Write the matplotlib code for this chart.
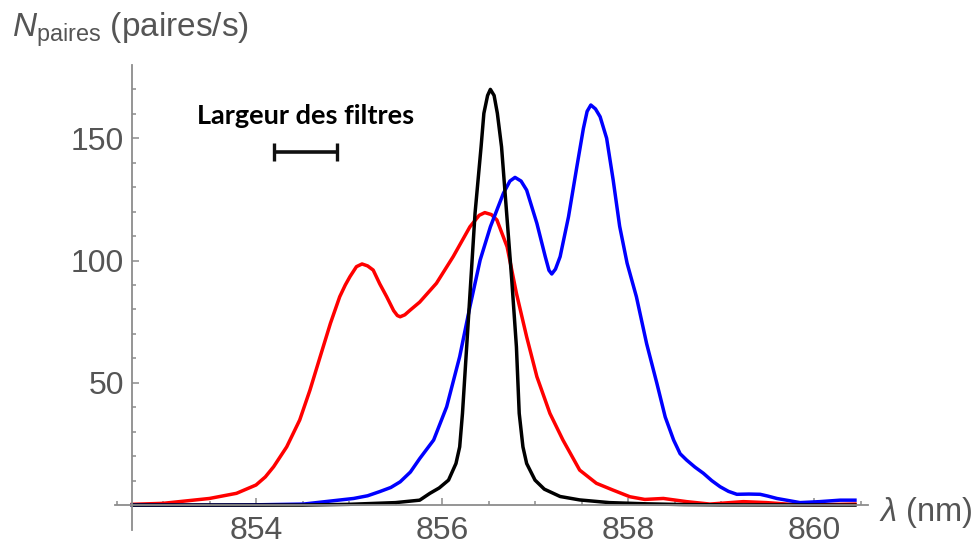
import matplotlib
matplotlib.use('Agg')
import matplotlib.pyplot as plt
from matplotlib.ticker import FixedLocator

plt.rcParams['font.family'] = ['Liberation Sans', 'DejaVu Sans']
plt.rcParams['mathtext.fontset'] = 'custom'
plt.rcParams['mathtext.rm'] = 'Liberation Sans'
plt.rcParams['mathtext.it'] = 'Liberation Sans:italic'

# ---------------------------------------------------------------------------------------------------------------------
# data: wavelength (nm) and pair rate (paires/s)
black_x = [852.67, 854.5, 855.0, 855.5, 855.76, 855.87, 855.97, 856.07, 856.15, 856.19, 856.22, 856.265, 856.31,
           856.355, 856.42, 856.45, 856.49, 856.52, 856.56, 856.595, 856.64, 856.695, 856.75, 856.80, 856.83,
           856.87, 856.91, 857.0, 857.1, 857.27, 857.48, 857.8, 858.2, 858.6, 859.0, 860.44]
black_y = [0, 0, 0.3, 1.0, 2.0, 4.8, 7.0, 10.2, 17.0, 23.8, 37.5, 64.7, 92.0,
           119.3, 146.5, 160.2, 167.5, 170.0, 167.5, 160.2, 146.5, 119.3, 92.0, 64.7, 37.5,
           23.8, 17.0, 10.2, 6.5, 3.5, 2.1, 1.0, 0.5, 0.2, 0.1, 0]

red_x = [852.67, 853.0, 853.5, 853.79, 854.0, 854.1, 854.19, 854.33, 854.47, 854.58, 854.69, 854.80, 854.90,
         854.96, 855.01, 855.08, 855.14, 855.20, 855.26, 855.33, 855.405, 855.48, 855.52, 855.55, 855.6, 855.66,
         855.76, 855.94, 856.12, 856.30, 856.40, 856.46, 856.53, 856.59, 856.70, 856.80, 856.91, 857.02, 857.16,
         857.30, 857.48, 857.66, 857.84, 858.02, 858.18, 858.38, 858.63, 858.88, 859.24, 859.49, 859.78, 860.14,
         860.44]
red_y = [0.3, 0.7, 2.7, 4.8, 8.2, 11.5, 15.7, 23.8, 34.8, 47.0, 60.7, 74.3, 85.2,
         90.0, 93.4, 97.5, 98.6, 97.8, 96.1, 90.5, 85.2, 79.5, 77.5, 77.0, 77.8, 79.8,
         83.0, 90.7, 101.6, 113.8, 118.5, 119.6, 118.8, 116.6, 105.6, 86.6, 68.8, 52.5, 37.5,
         26.6, 14.3, 8.9, 6.1, 3.4, 2.3, 2.7, 1.4, 0.4, 1.4, 1.0, 0.2, 0.2,
         0.4]

blue_x = [852.67, 853.5, 854.0, 854.51, 855.05, 855.2, 855.33, 855.45, 855.55, 855.66, 855.76, 855.91, 856.05,
          856.19, 856.30, 856.41, 856.52, 856.66, 856.73, 856.785, 856.85, 856.91, 857.02, 857.11, 857.15, 857.18,
          857.22, 857.27, 857.36, 857.45, 857.52, 857.56, 857.60, 857.65, 857.70, 857.77, 857.84, 857.91, 857.99,
          858.09, 858.20, 858.31, 858.40, 858.49, 858.56, 858.63, 858.72, 858.81, 858.9, 858.99, 859.08, 859.17,
          859.3, 859.42, 859.5, 859.60, 859.85, 860.06, 860.28, 860.44]
blue_y = [0, 0, 0.1, 0.4, 2.7, 3.8, 5.5, 7.2, 9.5, 13.5, 19.0, 26.6, 40.2,
          60.7, 81.1, 100.2, 113.8, 127.5, 132.5, 134.0, 132.5, 128.8, 115.2, 101.6, 96.0, 94.5,
          96.5, 101.6, 117.9, 138.4, 154.0, 161.0, 163.6, 162.0, 158.8, 150.0, 133.0, 114.0, 98.9,
          85.2, 66.0, 49.8, 36.0, 26.6, 21.0, 18.4, 15.5, 13.0, 10.0, 7.5, 5.6, 4.4,
          4.5, 4.4, 3.7, 2.7, 1.0, 1.4, 2.0, 2.0]

# filter width marker (nm)
filter_center = 854.53
filter_width = 0.68
filter_level = 144.5

x_major = [854, 856, 858, 860]
x_minor = [852.5, 853, 853.5, 854.5, 855, 855.5, 856.5, 857, 857.5, 858.5, 859, 859.5, 860.5]
y_major = [50, 100, 150]
y_minor = [10, 20, 30, 40, 60, 70, 80, 90, 110, 120, 130, 140, 160, 170]

# ---------------------------------------------------------------------------------------------------------------------
fig = plt.figure(figsize=(9.79, 5.46), dpi=100)
ax = fig.add_axes([0.1171, 0.0302, 0.7695, 0.8509])

ax.plot(red_x, red_y, color='#ff0000', lw=2.5, solid_joinstyle='round')
ax.plot(blue_x, blue_y, color='#0000ff', lw=2.5, solid_joinstyle='round')
ax.plot(black_x, black_y, color='black', lw=2.5, solid_joinstyle='round')

# filter width bar with its label
ax.errorbar(filter_center, filter_level, xerr=filter_width / 2, fmt='none', ecolor='#111111',
            elinewidth=2.6, capsize=6.5, capthick=2.4)
ax.text(filter_center, 156, 'Largeur des filtres', ha='center', va='baseline',
        fontsize=19.5, fontweight='bold', family=['Lato', 'DejaVu Sans'], color='black')

ax.set_xlim(852.48, 860.58)
ax.set_ylim(-10, 180)

# Mathematica style axes crossing at (852.67, 0)
for side in ['top', 'right']:
    ax.spines[side].set_visible(False)
ax.spines['left'].set_position(('data', 852.67))
ax.spines['bottom'].set_position(('data', 0))
for side in ['left', 'bottom']:
    ax.spines[side].set_color('#8c8c8c')
    ax.spines[side].set_linewidth(1.3)

ax.xaxis.set_major_locator(FixedLocator(x_major))
ax.xaxis.set_minor_locator(FixedLocator(x_minor))
ax.yaxis.set_major_locator(FixedLocator(y_major))
ax.yaxis.set_minor_locator(FixedLocator(y_minor))
ax.tick_params(which='both', direction='in', color='#8c8c8c', width=1.1, labelcolor='#555555', labelsize=23)
ax.tick_params(which='major', length=5)
ax.tick_params(which='minor', length=3)
ax.tick_params(axis='x', pad=8)
ax.tick_params(axis='y', pad=6)

fig.text(0.0123, 0.9322, r'$N_{\mathrm{paires}}$ (paires/s)', fontsize=24, color='#555555', va='baseline')
fig.text(0.898, 0.0458, r'$\lambda$ (nm)', fontsize=23.5, color='#555555', va='baseline')

fig.savefig('out.png', dpi=100)
